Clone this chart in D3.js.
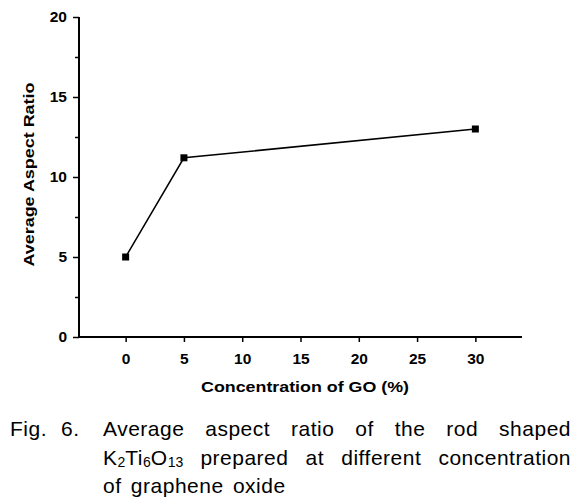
<!DOCTYPE html>
<html>
<head>
<meta charset="utf-8">
<script src="https://cdn.jsdelivr.net/npm/d3@7"></script>
<style>
  html, body { margin: 0; padding: 0; background: #fff; }
  svg { display: block; }
</style>
</head>
<body>
<svg id="chart" width="578" height="502"></svg>
<script>
// ---- data ----
const goConcentration = [0, 5, 30];
const aspectRatio = [5, 11.2, 13];
const xTicks = [0, 5, 10, 15, 20, 25, 30];
const yTicks = [0, 5, 10, 15, 20];
const yMinorTicks = [2.5, 7.5, 12.5, 17.5];
const xTitle = "Concentration of GO (%)";
const yTitle = "Average Aspect Ratio";
const captionLine1 = ["Average", "aspect", "ratio", "of", "the", "rod", "shaped"];
const captionLine2 = ["prepared", "at", "different", "concentration"];
const captionLine3 = "of graphene oxide";

const svg = d3.select("#chart");
const font = "'Liberation Sans', Arial, sans-serif";

const x = d3.scaleLinear().domain([-4, 34]).range([79, 522]);
const y = d3.scaleLinear().domain([0, 20]).range([337, 17]);

// axes lines
svg.append("line").attr("x1", 79).attr("x2", 79).attr("y1", y(20)).attr("y2", y(0) + 1)
  .attr("stroke", "#000").attr("stroke-width", 2);
svg.append("line").attr("x1", 78).attr("x2", 522).attr("y1", y(0)).attr("y2", y(0))
  .attr("stroke", "#000").attr("stroke-width", 2);

// y axis
const yAxis = d3.axisLeft(y).tickValues(yTicks).tickSize(6).tickPadding(6).tickFormat(d3.format("d"));
const gy = svg.append("g").attr("transform", "translate(79,0)").call(yAxis);
gy.select(".domain").remove();
gy.selectAll(".tick line").attr("stroke-width", 1.5);
gy.selectAll(".tick text").attr("font-family", font).attr("font-weight", "bold")
  .attr("font-size", 15.5).attr("fill", "#000");
const yMinor = d3.axisLeft(y).tickValues(yMinorTicks).tickSize(4).tickFormat("");
const gym = svg.append("g").attr("transform", "translate(79,0)").call(yMinor);
gym.select(".domain").remove();
gym.selectAll(".tick line").attr("stroke-width", 1.5);

// x axis
const xAxis = d3.axisBottom(x).tickValues(xTicks).tickSize(5).tickPadding(11).tickFormat(d3.format("d"));
const gx = svg.append("g").attr("transform", `translate(0,${y(0)})`).call(xAxis);
gx.select(".domain").remove();
gx.selectAll(".tick line").attr("stroke-width", 1.5);
gx.selectAll(".tick text").attr("font-family", font).attr("font-weight", "bold")
  .attr("font-size", 15.5).attr("fill", "#000");

// axis titles
svg.append("text").attr("x", 305).attr("y", 392).attr("text-anchor", "middle")
  .attr("font-family", font).attr("font-weight", "bold").attr("font-size", 15.5)
  .attr("textLength", 208).attr("lengthAdjust", "spacingAndGlyphs")
  .text(xTitle);
svg.append("text").attr("transform", `translate(33.5,${(82 + 267) / 2}) rotate(-90)`)
  .attr("text-anchor", "middle")
  .attr("font-family", font).attr("font-weight", "bold").attr("font-size", 15.5)
  .attr("textLength", 184).attr("lengthAdjust", "spacingAndGlyphs")
  .text(yTitle);

// line + markers
const pts = goConcentration.map((c, i) => [c, aspectRatio[i]]);
svg.append("path").datum(pts)
  .attr("d", d3.line().x(d => x(d[0])).y(d => y(d[1])))
  .attr("fill", "none").attr("stroke", "#000").attr("stroke-width", 1.5);
svg.selectAll("rect.m").data(pts).enter().append("rect").attr("class", "m")
  .attr("x", d => x(d[0]) - 3.5).attr("y", d => y(d[1]) - 3.5)
  .attr("width", 7).attr("height", 7).attr("fill", "#000");

// caption
const capFont = "'Liberation Sans', Arial, sans-serif";
const capSize = 21;
const capG = svg.append("g").attr("font-family", capFont).attr("font-size", capSize)
  .attr("letter-spacing", 0.5).attr("fill", "#000");
capG.append("text").attr("x", 10).attr("y", 436).text("Fig.");
capG.append("text").attr("x", 61).attr("y", 436).text("6.");

function justify(items, x0, x1, baseline) {
  const nodes = items.map(it => {
    const t = capG.append("text").attr("y", baseline);
    if (typeof it === "string") t.text(it);
    else it(t);
    return t;
  });
  const widths = nodes.map(n => n.node().getComputedTextLength());
  const total = d3.sum(widths);
  const gap = (x1 - x0 - total) / (nodes.length - 1);
  let cx = x0;
  nodes.forEach((n, i) => { n.attr("x", cx); cx += widths[i] + gap; });
}

justify(captionLine1, 103, 571, 436);

const formula = t => {
  const parts = [["K", false], ["2", true], ["Ti", false], ["6", true], ["O", false], ["13", true]];
  parts.forEach(([s, sub], i) => {
    const ts = t.append("tspan").text(s);
    if (sub) ts.attr("font-size", 14).attr("letter-spacing", 0).attr("dy", 2);
    else if (i > 0) ts.attr("dy", -2);
  });
};
justify([formula, ...captionLine2], 103, 571, 465);

capG.append("text").attr("x", 103).attr("y", 493).attr("word-spacing", 3).text(captionLine3);
</script>
</body>
</html>
